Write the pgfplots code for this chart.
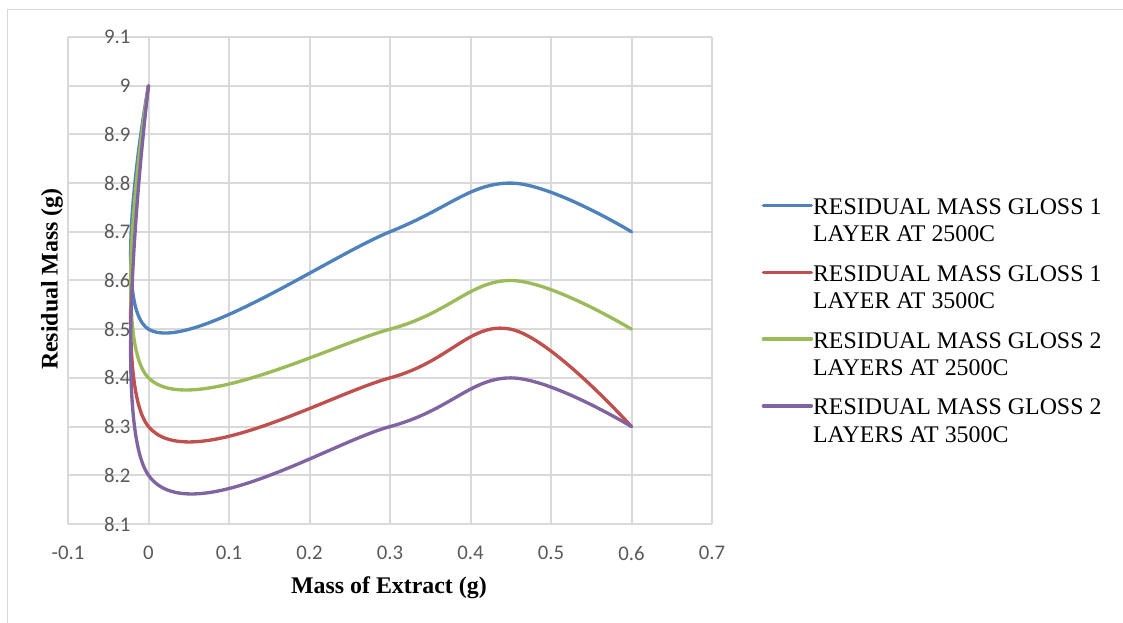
\documentclass[border=0pt]{standalone}
\usepackage{pgfplots}
\pgfplotsset{compat=1.18}
\usepackage{fontspec}
\setmainfont{Liberation Serif}
\newfontfamily\calibri{Carlito}
\definecolor{c1}{HTML}{4F81BD}
\definecolor{c2}{HTML}{C0504D}
\definecolor{c3}{HTML}{9BBB59}
\definecolor{c4}{HTML}{8064A2}
\definecolor{gridc}{HTML}{D9D9D9}
\definecolor{tickc}{HTML}{595959}
\begin{document}
\begin{tikzpicture}
\path[use as bounding box] (0,0) rectangle (842.25pt,467.25pt);
\draw[gridc, line width=0.75pt] (5.25pt,0) -- (5.25pt,459.75pt) -- (842.25pt,459.75pt);
\begin{axis}[
  at={(51pt,74.25pt)}, anchor=south west,
  scale only axis, width=483pt, height=365.25pt,
  xmin=-0.1, xmax=0.7, ymin=8.1, ymax=9.1,
  enlargelimits=false,
  axis x line=bottom, axis y line=center,
  axis line style={draw=gridc, line width=1.5pt, -},
  xtick={-0.1,0,0.1,0.2,0.3,0.4,0.5,0.6,0.7},
  ytick={8.1,8.2,8.3,8.4,8.5,8.6,8.7,8.8,8.9,9,9.1},
  major tick length=0pt,
  grid=major, major grid style={draw=gridc, line width=1.5pt},
  hide obscured x ticks=false, hide obscured y ticks=false,
  ticklabel style={font=\calibri\fontsize{15.6pt}{18pt}\selectfont, text=tickc},
  /pgf/number format/assume math mode=true,
  xticklabel style={anchor=north, yshift=-13pt},
  yticklabel style={anchor=east, xshift=-10pt},
  xlabel={Mass of Extract (g)}, ylabel={Residual Mass (g)},
  every axis x label/.style={at={(rel axis cs:0.4984,-0.1314)}, anchor=center, font=\bfseries\fontsize{17.9pt}{20pt}\selectfont},
  every axis y label/.style={at={(rel axis cs:-0.0248,0.503)}, anchor=center, rotate=90, font=\bfseries\fontsize{17.9pt}{20pt}\selectfont},
  legend cell align=left,
  legend style={at={(rel axis cs:1.0772,0.6752)}, anchor=north west, draw=none, fill=none,
    inner sep=0pt, outer sep=0pt, row sep=34.3pt,
    font=\fontsize{17.9pt}{20.5pt}\selectfont,
    nodes={inner sep=0pt, outer sep=0pt},
    cells={anchor=base west},
    /tikz/every odd column/.append style={column sep=0pt}},
  legend image code/.code={\draw[#1] (0pt,6.75pt) -- (36pt,6.75pt);},
  every axis plot/.append style={line width=2.5pt, line cap=round, line join=round, smooth, tension=0.6},
]
\addplot[c1] coordinates {(0,9) (0,8.5) (0.3,8.7) (0.45,8.8) (0.6,8.7)};
\addlegendentry{{\begin{tabular}[t]{@{}l@{}}RESIDUAL MASS GLOSS 1\\LAYER AT 2500C\end{tabular}}}
\addplot[c2] coordinates {(0,9) (0,8.3) (0.3,8.4) (0.45,8.5) (0.6,8.3)};
\addlegendentry{{\begin{tabular}[t]{@{}l@{}}RESIDUAL MASS GLOSS 1\\LAYER AT 3500C\end{tabular}}}
\addplot[c3] coordinates {(0,9) (0,8.4) (0.3,8.5) (0.45,8.6) (0.6,8.5)};
\addlegendentry{{\begin{tabular}[t]{@{}l@{}}RESIDUAL MASS GLOSS 2\\LAYERS AT 2500C\end{tabular}}}
\addplot[c4] coordinates {(0,9) (0,8.2) (0.3,8.3) (0.45,8.4) (0.6,8.3)};
\addlegendentry{{\begin{tabular}[t]{@{}l@{}}RESIDUAL MASS GLOSS 2\\LAYERS AT 3500C\end{tabular}}}
\end{axis}
\end{tikzpicture}
\end{document}
